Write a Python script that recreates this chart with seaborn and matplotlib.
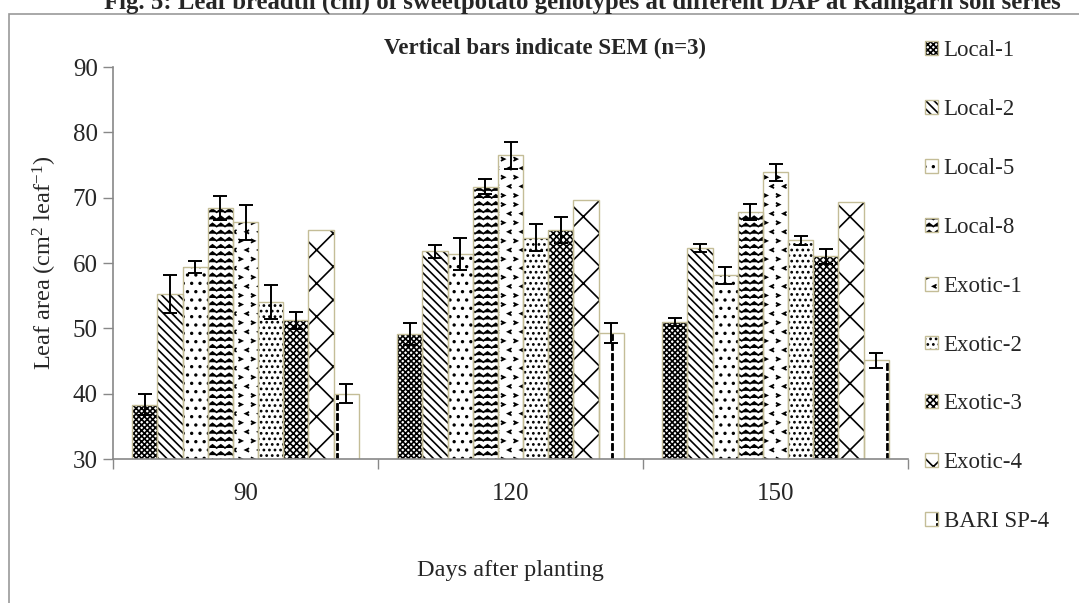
import numpy as np
import pandas as pd
import matplotlib
matplotlib.use("Agg")
import matplotlib.pyplot as plt
import matplotlib.patches as mpatches
import matplotlib.hatch as mhatch
from matplotlib.path import Path
import seaborn as sns

# ---------------- data ----------------
dap = ["90", "120", "150"]
genotypes = ["Local-1", "Local-2", "Local-5", "Local-8", "Exotic-1",
             "Exotic-2", "Exotic-3", "Exotic-4", "BARI SP-4"]
local1 = [38.3, 49.1, 51.0]
local2 = [55.3, 61.8, 62.3]
local5 = [59.4, 61.4, 58.1]
local8 = [68.4, 71.7, 67.8]
exotic1 = [66.2, 76.5, 73.9]
exotic2 = [54.0, 63.9, 63.5]
exotic3 = [51.2, 65.0, 61.0]
exotic4 = [65.0, 69.6, 69.4]
bari = [40.0, 49.3, 45.1]

sem_local1 = [1.6, 1.7, 0.6]
sem_local2 = [2.9, 1.0, 0.6]
sem_local5 = [0.9, 2.5, 1.3]
sem_local8 = [1.85, 1.2, 1.2]
sem_exotic1 = [2.7, 2.05, 1.3]
sem_exotic2 = [2.6, 2.1, 0.7]
sem_exotic3 = [1.3, 2.0, 1.15]
sem_exotic4 = [0.0, 0.0, 0.0]
sem_bari = [1.5, 1.5, 1.1]

values = [local1, local2, local5, local8, exotic1, exotic2, exotic3, exotic4, bari]
sems = [sem_local1, sem_local2, sem_local5, sem_local8, sem_exotic1,
        sem_exotic2, sem_exotic3, sem_exotic4, sem_bari]

rows = []
for g, vals in zip(genotypes, values):
    for d, v in zip(dap, vals):
        rows.append({"DAP": d, "Genotype": g, "value": v})
df = pd.DataFrame(rows)


# ---------------- custom hatch patterns ----------------
class ZigZagHatch(mhatch.HatchPatternBase):
    def __init__(self, hatch, density):
        self.num_rows = hatch.count("O") * 14
        self.num_peaks = 12
        self.n = 2 * self.num_peaks + 1
        self.num_vertices = self.num_rows * self.n

    def set_vertices_and_codes(self, vertices, codes):
        n = self.n
        xs = np.linspace(0, 1, n)
        amp = 0.22 / self.num_rows
        offs = np.where(np.arange(n) % 2 == 0, -amp, amp)
        for i in range(self.num_rows):
            y = (i + 0.5) / self.num_rows
            sl = slice(i * n, (i + 1) * n)
            vertices[sl, 0] = xs
            vertices[sl, 1] = y + offs
            codes[sl] = Path.LINETO
            codes[i * n] = Path.MOVETO


class ChevronHatch(mhatch.HatchPatternBase):
    def __init__(self, hatch, density):
        c = hatch.count("*")
        self.ncols = c * 8
        self.nrows = c * 11
        self.num_vertices = self.ncols * self.nrows * 3

    def set_vertices_and_codes(self, vertices, codes):
        k = 0
        w = 0.12 / self.ncols
        h = 0.16 / self.nrows
        for r in range(self.nrows):
            yc = (r + 0.5) / self.nrows
            sgn = 1 if r % 2 == 0 else -1
            xoff = 0 if r % 2 == 0 else 0.5 / self.ncols
            for c in range(self.ncols):
                xc = (c + 0.25) / self.ncols + xoff
                vertices[k] = (xc - sgn * w, yc + h)
                vertices[k + 1] = (xc + sgn * w, yc)
                vertices[k + 2] = (xc - sgn * w, yc - h)
                codes[k] = Path.MOVETO
                codes[k + 1] = Path.LINETO
                codes[k + 2] = Path.LINETO
                k += 3


class DashedVerticalHatch(mhatch.HatchPatternBase):
    def __init__(self, hatch, density):
        self.num_lines = hatch.count("|") * 4
        self.num_dashes = 10
        self.num_vertices = self.num_lines * self.num_dashes * 4

    def set_vertices_and_codes(self, vertices, codes):
        k = 0
        for i in range(self.num_lines):
            x = (i + 0.5) / self.num_lines
            for j in range(self.num_dashes):
                y0 = j / self.num_dashes
                y1 = y0 + 0.6 / self.num_dashes
                for dx in (-0.006, 0.006):
                    vertices[k] = (x + dx, y0)
                    vertices[k + 1] = (x + dx, y1)
                    codes[k] = Path.MOVETO
                    codes[k + 1] = Path.LINETO
                    k += 2


mhatch._hatch_types = [t for t in mhatch._hatch_types
                       if t.__name__ not in ("LargeCircles", "Stars", "VerticalHatch")]
mhatch._hatch_types += [ZigZagHatch, ChevronHatch, DashedVerticalHatch]

hatches = ["xxxxxx", "\\\\\\\\", "..", "O", "*", "...", "xxxxx", "x", "|"]

# ---------------- style ----------------
sns.set_theme(style="white")
plt.rcParams["font.family"] = ["Liberation Serif", "DejaVu Serif"]
plt.rcParams["mathtext.fontset"] = "custom"
plt.rcParams["mathtext.rm"] = "Liberation Serif"
plt.rcParams["mathtext.it"] = "Liberation Serif:italic"
plt.rcParams["hatch.linewidth"] = 1.2

tan = "#c4bd97"
axis_gray = "#888888"

fig = plt.figure(figsize=(10.79, 6.03), dpi=100)
ax = fig.add_axes([113 / 1079, 1 - 459 / 603, 795 / 1079, 392 / 603])

sns.barplot(data=df, x="DAP", y="value", hue="Genotype", order=dap,
            hue_order=genotypes, palette=["white"] * len(genotypes),
            saturation=1, width=0.855, errorbar=None, legend=False,
            edgecolor="black", linewidth=0, ax=ax)
for cont, h in zip(ax.containers, hatches):
    for p in cont.patches:
        p.set_hatch(h)
        p.set_edgecolor("black")
        p.set_linewidth(0)

n_first = len(ax.containers)
sns.barplot(data=df, x="DAP", y="value", hue="Genotype", order=dap,
            hue_order=genotypes, palette=[tan] * len(genotypes),
            saturation=1, width=0.855, errorbar=None, legend=False,
            fill=False, linewidth=1.0, ax=ax)
for cont in ax.containers[n_first:]:
    for p in cont.patches:
        p.set_edgecolor(tan)
        p.set_facecolor("none")
        p.set_linewidth(1.0)

# error bars
for cont, s in zip(ax.containers[:n_first], sems):
    xs = [p.get_x() + p.get_width() / 2 for p in cont.patches]
    ys = [p.get_y() + p.get_height() for p in cont.patches]
    s = np.asarray(s, dtype=float)
    m = s > 0
    if m.any():
        ax.errorbar(np.asarray(xs)[m], np.asarray(ys)[m], yerr=s[m], fmt="none",
                    ecolor="black", elinewidth=1.4, capsize=5, capthick=1.4,
                    zorder=5)

ax.set_ylim(30, 90)
ax.set_yticks(np.arange(30, 91, 10))
ax.set_xlim(-0.5, 2.5)
ax.set_xticks(range(len(dap)))
ax.set_xticklabels(dap)
ax.set_xticks(np.arange(-0.5, len(dap), 1.0), minor=True)
ax.tick_params(axis="x", which="major", length=0, pad=17, labelsize=18)
ax.tick_params(axis="x", which="minor", length=7, width=1, color=axis_gray,
               direction="out", bottom=True)
ax.tick_params(axis="y", length=7, width=1, color=axis_gray, direction="out",
               left=True, pad=4, labelsize=18)
for side in ("top", "right"):
    ax.spines[side].set_visible(False)
for side in ("left", "bottom"):
    ax.spines[side].set_color(axis_gray)
    ax.spines[side].set_linewidth(1.2)

ax.set_xlabel("Days after planting", fontsize=17.5, labelpad=40)
ax.set_ylabel(r"Leaf area (cm$^{2}$ leaf$^{\mathrm{-1}}$)", fontsize=17.5, labelpad=10)

# legend
handles = [(mpatches.Patch(facecolor="white", edgecolor="black", linewidth=0, hatch=h),
            mpatches.Patch(facecolor="none", edgecolor=tan, linewidth=1.0))
           for h in hatches]
fig.legend(handles, genotypes, loc="upper left",
           bbox_to_anchor=(914 / 1079, 1 - 29 / 603), frameon=False,
           fontsize=16.5, handlelength=0.55, handleheight=0.55, handletextpad=0.25,
           labelspacing=1.65, borderpad=0)

# titles
fig.text(545 / 1079, 1 - 48 / 603, "Vertical bars indicate SEM (n=3)",
         ha="center", va="center", fontsize=16.5, fontweight="bold")
fig.text(582 / 1079, 1 - 9 / 603,
         "Fig. 5: Leaf breadth (cm) of sweetpotato genotypes at different DAP at Ramgarh soil series",
         ha="center", va="baseline", fontsize=17.8, fontweight="bold")

# outer frame
fig.add_artist(mpatches.Rectangle((9 / 1079, -0.2), 1.2, 1.2 - 14 / 603,
                                  transform=fig.transFigure, fill=False,
                                  edgecolor="#999999", linewidth=1.2))

fig.savefig("out.png", dpi=100)
